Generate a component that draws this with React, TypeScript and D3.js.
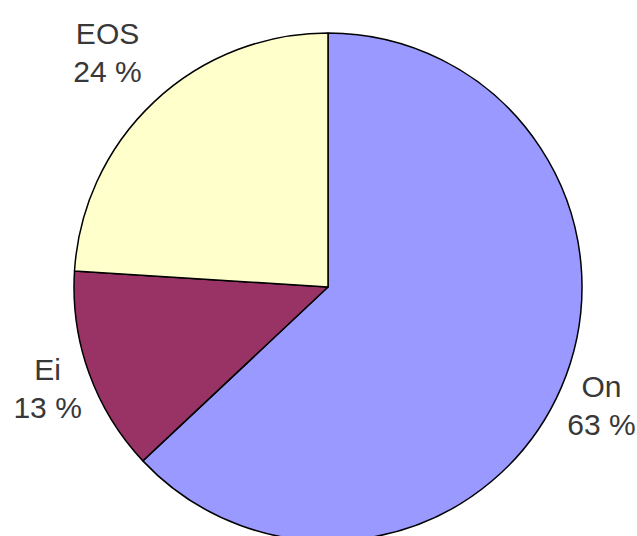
import * as d3 from 'd3';
import { useEffect, useRef } from "react";

const labels = ['On', 'Ei', 'EOS'];
const values = [63, 13, 24];
const colors = ['#9999FF', '#993366', '#FFFFCC'];

const WIDTH = 637;
const HEIGHT = 536;
const CX = 328;
const CY = 287;
const RADIUS = 254;
const LABEL_RADIUS = 298;
const LABEL_TOP_EXTRA = 33; // labels above the centre sit a bit further out

type slice = { label: string, value: number, color: string };

export default function App() {
    const ref = useRef(null);
    useEffect(() => {
        if (!ref.current) return;
        const svg = d3.select(ref.current);
        svg.selectAll("*").remove();

        const data: slice[] = labels.map((l, i) => ({ label: l, value: values[i], color: colors[i] }));

        const pie = d3.pie<slice>().sort(null).value(d => d.value);
        const arc = d3.arc<d3.PieArcDatum<slice>>().innerRadius(0).outerRadius(RADIUS);

        const labelPos = (d: d3.PieArcDatum<slice>) => {
            const a = (d.startAngle + d.endAngle) / 2;
            const r = LABEL_RADIUS + LABEL_TOP_EXTRA * Math.max(0, Math.cos(a));
            return [r * Math.sin(a), -r * Math.cos(a)];
        };

        const g = svg.append('g').attr('transform', `translate(${CX}, ${CY})`);

        g.selectAll('path')
            .data(pie(data))
            .enter()
            .append('path')
            .attr('d', arc)
            .attr('fill', d => d.data.color)
            .attr('stroke', '#000')
            .attr('stroke-width', 1.5)
            .attr('stroke-linejoin', 'round');

        const txt = g.selectAll('text.lbl')
            .data(pie(data))
            .enter()
            .append('text')
            .attr('class', 'lbl')
            .attr('transform', d => `translate(${labelPos(d)})`)
            .attr('text-anchor', 'middle')
            .attr('font-family', 'Liberation Sans, Arial, sans-serif')
            .attr('font-size', 30)
            .attr('fill', '#383838');

        txt.append('tspan').attr('x', 0).attr('y', -8).text(d => d.data.label);
        txt.append('tspan').attr('x', 0).attr('y', 30).text(d => `${d.data.value} %`);
    }, []);

    return (
        <svg ref={ref} width={WIDTH} height={HEIGHT}
            style={{ position: 'absolute', left: 0, top: 0, background: '#fff' }}></svg>
    );
}
